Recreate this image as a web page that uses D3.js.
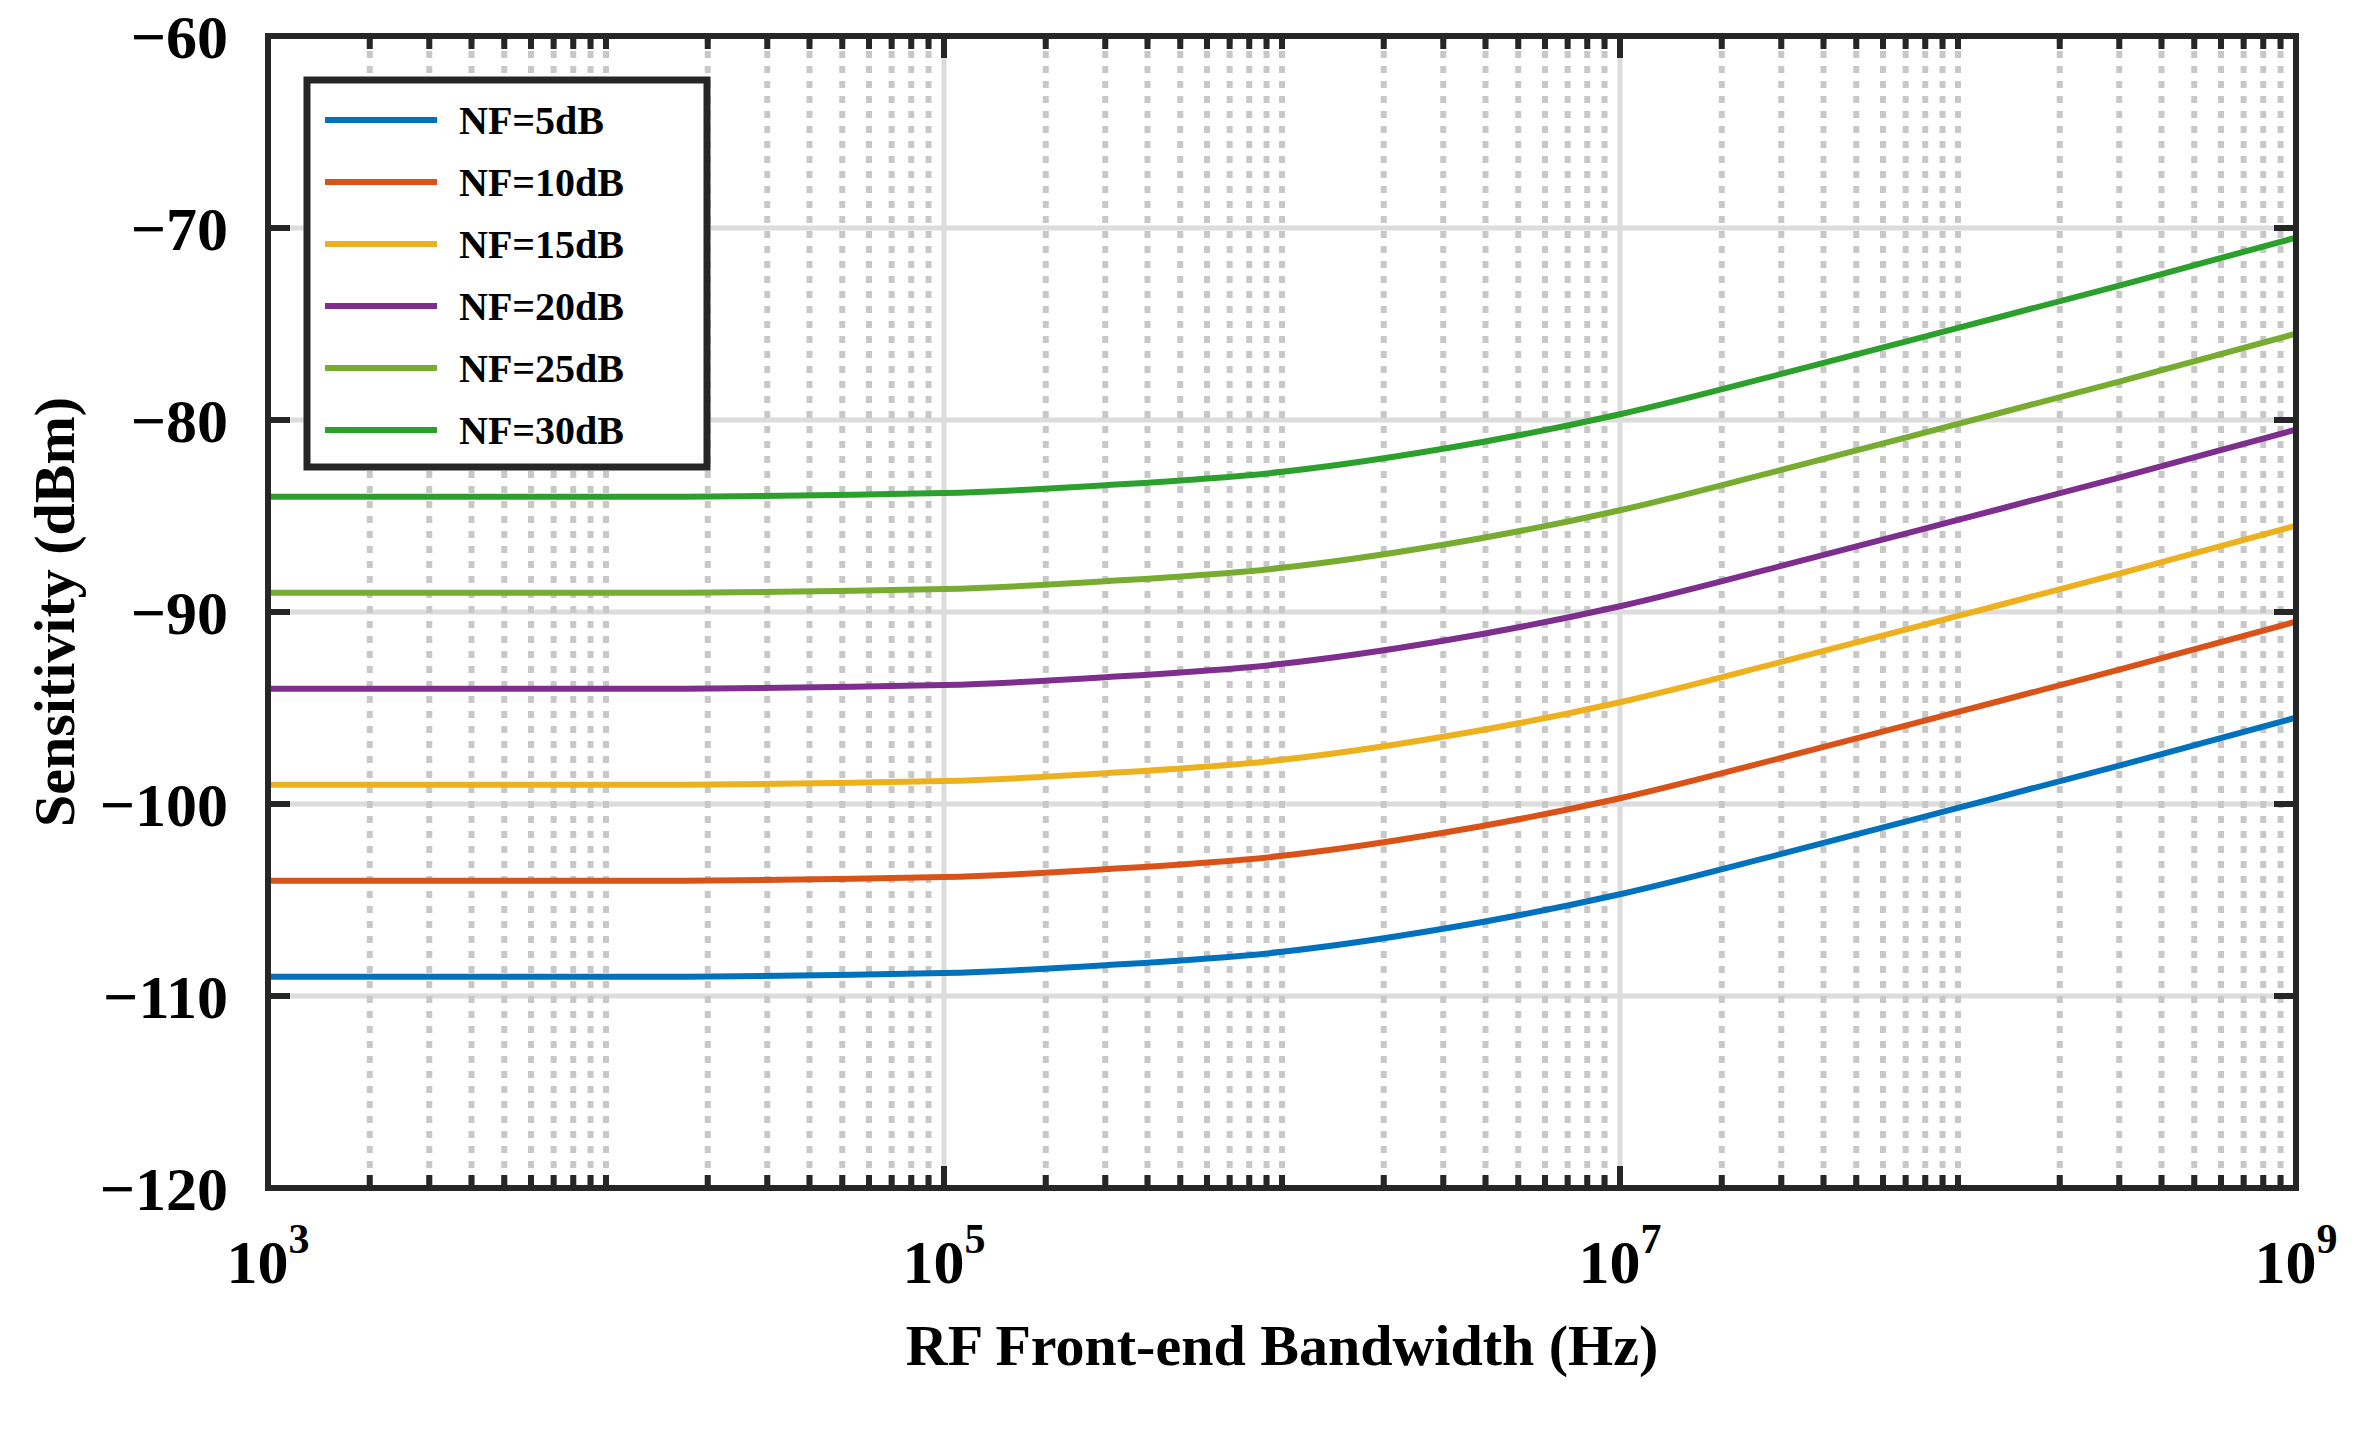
<!DOCTYPE html>
<html><head><meta charset="utf-8">
<script src="https://cdn.jsdelivr.net/npm/d3@7"></script>
<style>body{margin:0;background:#fff}text{font-family:"Liberation Serif","Times New Roman",serif;font-weight:bold}</style>
</head><body><div id="chart"></div>
<script>
// Sensitivity vs bandwidth
const bandwidth = [1e3, 1e4, 1e5, 3e5, 1e6, 3e6, 1e7, 3e7, 1e8, 3e8, 1e9];
const nf5  = [-109.0, -109.0, -108.8, -108.4, -107.7, -106.5, -104.7, -102.6, -100.2, -98.0, -95.5];
const nf10 = [-104.0, -104.0, -103.8, -103.4, -102.7, -101.5, -99.7, -97.6, -95.2, -93.0, -90.5];
const nf15 = [-99.0, -99.0, -98.8, -98.4, -97.7, -96.5, -94.7, -92.6, -90.2, -88.0, -85.5];
const nf20 = [-94.0, -94.0, -93.8, -93.4, -92.7, -91.5, -89.7, -87.6, -85.2, -83.0, -80.5];
const nf25 = [-89.0, -89.0, -88.8, -88.4, -87.7, -86.5, -84.7, -82.6, -80.2, -78.0, -75.5];
const nf30 = [-84.0, -84.0, -83.8, -83.4, -82.7, -81.5, -79.7, -77.6, -75.2, -73.0, -70.5];
const seriesNames = ["NF=5dB", "NF=10dB", "NF=15dB", "NF=20dB", "NF=25dB", "NF=30dB"];
const seriesValues = [nf5, nf10, nf15, nf20, nf25, nf30];
const colors = ["#0072BD", "#D95319", "#EDB120", "#7E2F8E", "#77AC30", "#2CA02C"];
const xLabelExps = [3, 5, 7, 9];
const yTicks = [-120, -110, -100, -90, -80, -70, -60];

const width = 2358, height = 1432;
const marginLeft = 268, marginRight = 62, marginTop = 36, marginBottom = 244;

const svg = d3.select("#chart").append("svg")
  .attr("width", width).attr("height", height);

const x = d3.scaleLog().domain([1e3, 1e9]).range([marginLeft, width - marginRight]);
const y = d3.scaleLinear().domain([-120, -60]).range([height - marginBottom, marginTop]);

// minor x positions (2..9 in each decade, plus even decades)
const minor = [];
for (let e = 3; e < 9; e++) {
  for (let m = 1; m <= 9; m++) {
    const v = m * Math.pow(10, e);
    if (m === 1 && e % 2 === 1) continue;
    minor.push(v);
  }
}
const major = xLabelExps.map(e => Math.pow(10, e));

const grid = svg.append("g");
grid.selectAll("line.h").data(yTicks).join("line")
  .attr("x1", marginLeft).attr("x2", width - marginRight)
  .attr("y1", d => y(d)).attr("y2", d => y(d))
  .attr("stroke", "#dcdcdc").attr("stroke-width", 5);
grid.selectAll("line.vmaj").data(major).join("line")
  .attr("x1", d => x(d)).attr("x2", d => x(d))
  .attr("y1", marginTop).attr("y2", height - marginBottom)
  .attr("stroke", "#dcdcdc").attr("stroke-width", 5);
grid.selectAll("line.vmin").data(minor).join("line")
  .attr("x1", d => x(d)).attr("x2", d => x(d))
  .attr("y1", marginTop).attr("y2", height - marginBottom)
  .attr("stroke", "#c8c8c8").attr("stroke-width", 6)
  .attr("stroke-dasharray", "7,8");

// curves
const line = d3.line().curve(d3.curveMonotoneX)
  .x((d, i) => x(bandwidth[i])).y(d => y(d));
svg.append("g").selectAll("path").data(seriesValues).join("path")
  .attr("fill", "none").attr("stroke", (d, i) => colors[i])
  .attr("stroke-width", 6).attr("d", line);

// ticks (inward, all sides)
const tk = svg.append("g").attr("stroke", "#262626").attr("stroke-width", 6);
const xb = height - marginBottom, xt = marginTop, yl = marginLeft, yr = width - marginRight;
[...major.map(v => [v, 22]), ...minor.map(v => [v, 13])].forEach(([v, len]) => {
  tk.append("line").attr("x1", x(v)).attr("x2", x(v)).attr("y1", xb).attr("y2", xb - len);
  tk.append("line").attr("x1", x(v)).attr("x2", x(v)).attr("y1", xt).attr("y2", xt + len);
});
yTicks.forEach(v => {
  tk.append("line").attr("y1", y(v)).attr("y2", y(v)).attr("x1", yl).attr("x2", yl + 22);
  tk.append("line").attr("y1", y(v)).attr("y2", y(v)).attr("x1", yr).attr("x2", yr - 22);
});

svg.append("rect").attr("x", marginLeft).attr("y", marginTop)
  .attr("width", width - marginLeft - marginRight).attr("height", height - marginTop - marginBottom)
  .attr("fill", "none").attr("stroke", "#262626").attr("stroke-width", 6);

// y tick labels
svg.append("g").selectAll("text").data(yTicks).join("text")
  .attr("x", marginLeft - 40).attr("y", d => y(d)).attr("dy", "0.35em")
  .attr("text-anchor", "end").attr("font-size", 62)
  .text(d => "\u2212" + Math.abs(d));

// x tick labels 10^n
const xl = svg.append("g").selectAll("text").data(xLabelExps).join("text")
  .attr("x", d => x(Math.pow(10, d))).attr("y", xb + 95)
  .attr("text-anchor", "middle").attr("font-size", 62);
xl.append("tspan").text("10");
xl.append("tspan").attr("font-size", 42).attr("dy", -30).text(d => d);

svg.append("text").attr("x", (marginLeft + width - marginRight) / 2).attr("y", 1365)
  .attr("text-anchor", "middle").attr("font-size", 58).text("RF Front-end Bandwidth (Hz)");
svg.append("text").attr("transform", `translate(74,${(marginTop + xb) / 2}) rotate(-90)`)
  .attr("text-anchor", "middle").attr("font-size", 58).text("Sensitivity (dBm)");

// legend
const lg = svg.append("g").attr("transform", "translate(307,80)");
lg.append("rect").attr("width", 400).attr("height", 387)
  .attr("fill", "#fff").attr("stroke", "#262626").attr("stroke-width", 7);
seriesNames.forEach((n, i) => {
  const cy = 40 + i * 62;
  lg.append("line").attr("x1", 18).attr("x2", 130).attr("y1", cy).attr("y2", cy)
    .attr("stroke", colors[i]).attr("stroke-width", 6);
  lg.append("text").attr("x", 152).attr("y", cy).attr("dy", "0.35em")
    .attr("font-size", 40).text(n);
});
</script></body></html>
